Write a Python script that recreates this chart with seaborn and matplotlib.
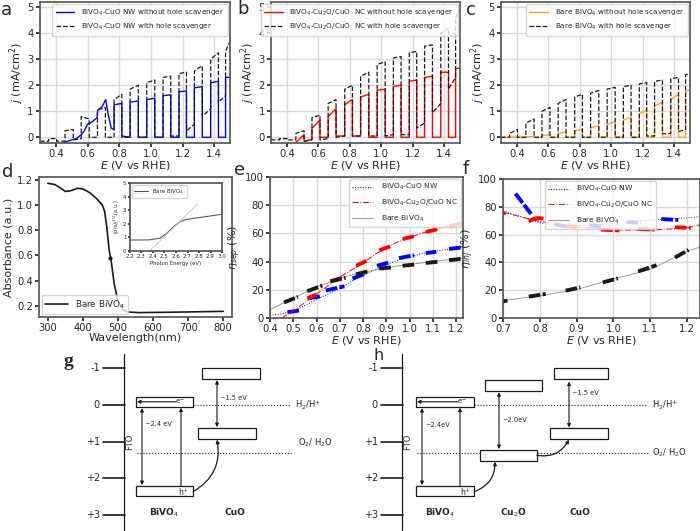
import numpy as np
import seaborn as sns
import matplotlib.pyplot as plt
from matplotlib.patches import Rectangle

nan = np.nan
W, H = 700, 531

# ---------------- a, b, c : chopped-light j-E curves ----------------
E_start = 0.3
light_on = [0.355, 0.458, 0.56, 0.663, 0.768, 0.869, 0.974, 1.077, 1.178, 1.275, 1.378, 1.472]
light_off = [0.405, 0.51, 0.611, 0.713, 0.817, 0.921, 1.025, 1.126, 1.225, 1.325, 1.427, 1.5]

# a - BiVO4-CuO NW
a_nw_pre_E = [0.45, 0.5, 0.53, 0.56, 0.58, 0.6, 0.63, 0.66, 0.665, 0.69, 0.715, 0.73, 0.75, 0.768]
a_nw_pre_j = [-0.2, -0.1, -0.05, 0.1, 0.25, 0.5, 0.6, 0.75, 1.05, 1.15, 1.45, 0.9, 0.35, 0.3]
a_nw_on0 = [nan, nan, nan, nan, 1.25, 1.35, 1.45, 1.6, 1.75, 1.9, 2.1, 2.3]
a_nw_on1 = [nan, nan, nan, nan, 1.3, 1.4, 1.5, 1.63, 1.78, 1.95, 2.15, 2.3]
a_nw_dark0 = [nan, nan, nan, nan, nan, 0.0, 0.0, 0.0, 0.0, 0.0, 0.0, 0.0]
a_nw_dark1 = [nan, nan, nan, nan, 0.05, 0.0, 0.0, 0.0, 0.0, 0.0, 0.0, nan]
a_sc_on0 = [-0.05, 0.25, 0.8, 1.05, 1.45, 1.85, 2.1, 2.3, 2.45, 2.55, 3.0, 3.3]
a_sc_on1 = [-0.05, 0.3, 0.7, 1.15, 1.65, 2.0, 2.2, 2.35, 2.5, 2.75, 3.25, 3.7]
a_sc_dark0 = [-0.15, -0.15, -0.05, 0.0, 0.0, 0.0, 0.0, 0.0, 0.05, 0.5, 1.1, 1.6]
a_sc_dark1 = [-0.15, -0.1, 0.0, 0.0, 0.0, 0.0, 0.0, 0.05, 0.25, 0.8, 1.35, nan]

# b - BiVO4-Cu2O/CuO NC
b_nc_on0 = [nan, -0.2, 0.35, 0.8, 1.25, 1.55, 1.8, 1.95, 2.15, 2.3, 2.5, 2.65]
b_nc_on1 = [nan, 0.1, 0.65, 1.1, 1.45, 1.65, 1.85, 2.0, 2.2, 2.35, 2.5, 2.65]
b_nc_dark0 = [nan, nan, -0.08, 0.0, 0.05, 0.05, 0.0, 0.0, 0.0, 0.0, 0.0, 0.0]
b_nc_dark1 = [nan, -0.15, 0.0, 0.05, 0.05, 0.0, 0.0, 0.0, 0.0, 0.0, 0.0, nan]
b_sc_on0 = [-0.05, 0.15, 0.75, 1.3, 1.85, 2.35, 2.8, 3.05, 3.25, 3.5, 4.0, 4.6]
b_sc_on1 = [-0.05, 0.25, 0.85, 1.45, 2.0, 2.5, 2.9, 3.1, 3.3, 3.55, 4.2, 4.9]
b_sc_dark0 = [-0.1, -0.1, -0.1, -0.05, 0.05, 0.05, 0.05, 0.1, 0.1, 0.55, 1.3, 2.3]
b_sc_dark1 = [-0.1, -0.15, -0.1, 0.0, 0.05, 0.05, 0.05, 0.1, 0.35, 0.95, 1.85, nan]

# c - bare BiVO4
c_bare_on0 = [0.0, 0.02, 0.07, 0.15, 0.25, 0.35, 0.5, 0.65, 0.9, 1.2, 1.45, 1.75]
c_bare_on1 = [0.02, 0.03, 0.1, 0.2, 0.3, 0.45, 0.6, 0.78, 1.05, 1.35, 1.65, 1.85]
c_bare_dark0 = [0.0, 0.0, 0.0, 0.0, 0.0, 0.0, 0.0, 0.0, 0.0, 0.0, 0.0, 0.0]
c_bare_dark1 = [0.0, 0.0, 0.0, 0.0, 0.0, 0.0, 0.0, 0.0, 0.0, 0.0, 0.0, nan]
c_sc_on0 = [0.15, 0.55, 1.0, 1.3, 1.55, 1.7, 1.85, 1.95, 2.05, 2.15, 2.25, 2.4]
c_sc_on1 = [0.3, 0.7, 1.15, 1.45, 1.65, 1.8, 1.92, 2.0, 2.1, 2.2, 2.3, 2.45]
c_sc_dark0 = [0.0, 0.0, 0.0, 0.0, 0.0, 0.0, 0.0, 0.0, 0.0, 0.05, 0.15, 0.3]
c_sc_dark1 = [0.0, 0.0, 0.0, 0.0, 0.0, 0.0, 0.0, 0.0, 0.05, 0.13, 0.22, nan]

# ---------------- d : UV-vis ----------------
wl = [300, 320, 340, 350, 365, 385, 400, 420, 440, 456, 462, 468, 475, 480, 489, 499, 513, 527, 560, 650, 800]
absb = [1.175, 1.165, 1.13, 1.11, 1.115, 1.135, 1.13, 1.1, 1.05, 1.0, 0.95, 0.83, 0.64, 0.57, 0.38, 0.245, 0.17, 0.15, 0.145, 0.148, 0.155]
wl_mark, abs_mark = [478], [0.58]
tauc_E = [2.2, 2.3, 2.37, 2.46, 2.52, 2.58, 2.64, 2.68, 2.75, 2.87, 3.0]
tauc_y = [0.81, 0.81, 0.82, 0.94, 1.3, 1.8, 2.17, 2.3, 2.4, 2.54, 2.7]
tang_E = [2.37, 2.79]
tang_y = [0.0, 3.47]

# ---------------- e : separation efficiency ----------------
e_nw_E = [0.40, 0.45, 0.50, 0.55, 0.60, 0.65, 0.70, 0.75, 0.80, 0.85, 0.90, 0.95, 1.00, 1.05, 1.10, 1.15, 1.20, 1.23]
e_nw_y = [2, 3, 4.7, 9, 13, 17, 21, 26, 30, 34, 38, 41, 43.5, 45.5, 47, 48.5, 49.5, 50.5]
e_nc_E = [0.45, 0.50, 0.55, 0.60, 0.65, 0.70, 0.75, 0.80, 0.85, 0.90, 0.95, 1.00, 1.05, 1.10, 1.15, 1.20, 1.23]
e_nc_y = [0, 5, 11, 17, 23, 29, 34, 39, 45, 50, 54, 57, 60, 62, 64.5, 66.5, 67.5]
e_bare_E = [0.40, 0.45, 0.50, 0.55, 0.60, 0.65, 0.70, 0.75, 0.80, 0.85, 0.90, 0.95, 1.00, 1.05, 1.10, 1.15, 1.20, 1.23]
e_bare_y = [6, 10, 14, 18, 22, 25, 28, 30.5, 32.5, 34, 35.5, 37, 38, 39, 40, 41, 42, 42.5]
# measured (bold) segments: E start, E end, value start, value end
e_nw_seg = [(0.475, 0.53, 4, 5.5), (0.565, 0.62, 14, 15.5), (0.64, 0.72, 19.5, 22.5), (0.755, 0.81, 28, 31.5),
            (0.86, 0.915, 37, 39.5), (0.955, 1.02, 42.5, 44.5), (1.07, 1.115, 46, 47), (1.17, 1.225, 49, 50)]
e_nc_seg = [(0.56, 0.60, 14, 16.5), (0.66, 0.72, 26, 29), (0.77, 0.815, 37, 40.5), (0.87, 0.92, 48, 51),
            (0.97, 1.02, 56, 58), (1.07, 1.12, 61, 63), (1.17, 1.225, 65, 67)]
e_bare_seg = [(0.46, 0.52, 11, 15), (0.56, 0.625, 19, 23), (0.66, 0.725, 26, 28.5), (0.77, 0.82, 31, 33),
              (0.87, 0.925, 35, 36), (0.97, 1.025, 37, 38), (1.07, 1.125, 39, 40), (1.17, 1.225, 41, 42)]

# ---------------- f : injection efficiency ----------------
f_E = [0.70, 0.80, 0.90, 1.00, 1.10, 1.20, 1.235]
f_nw_y = [77, 68.5, 66, 68, 70.5, 72, 73]
f_nc_y = [76, 69.5, 65.5, 63.2, 63.2, 64.8, 67]
f_bare_y = [12.5, 16, 20.5, 28, 35, 48, 51]
f_nw_seg = [(0.734, 0.757, 89.5, 81.5), (0.757, 0.779, 81.5, 74), (0.84, 0.875, 67.7, 65.5), (0.935, 0.975, 66.5, 65.8),
            (1.035, 1.074, 69, 68.6), (1.13, 1.176, 71.2, 70.5)]
f_nc_seg = [(0.70, 0.706, 75, 76), (0.77, 0.79, 69.6, 72), (0.79, 0.81, 72, 71.5), (0.87, 0.91, 66, 65.5),
            (0.966, 1.016, 63.6, 63), (1.067, 1.112, 64, 63.6), (1.167, 1.21, 65.3, 64.8)]
f_bare_seg = [(0.70, 0.712, 12, 12.5), (0.77, 0.816, 15.4, 17.3), (0.87, 0.91, 19.7, 22), (0.971, 1.012, 25.6, 28.5),
              (1.067, 1.117, 33.5, 38), (1.167, 1.204, 43.5, 49)]

# ---------------- g, h : band diagrams (potential vs RHE) ----------------
scale_ticks = [-1, 0, 1, 2, 3]
scale_labels = ["-1", "0", "+1", "+2", "+3"]
bivo4_cb = (-0.22, 0.05)
bivo4_vb = (2.2, 2.48)
cu2o_cb = (-0.67, -0.37)
cu2o_vb = (1.22, 1.51)
cuo_cb = (-1.0, -0.7)
cuo_vb = (0.63, 0.92)
h2_level = 0.0
o2_level = 1.31

sns.set_theme(style="whitegrid")
sns.set_style("whitegrid", {"axes.edgecolor": ".35", "grid.color": ".85", "xtick.bottom": True,
                            "ytick.left": True, "axes.linewidth": 0.8})
plt.rcParams['font.family'] = ['DejaVu Sans']

fig = plt.figure(figsize=(7, 5.31), dpi=100)


def px_axes(x0, y0, x1, y1):
    return fig.add_axes([x0 / W, 1 - y1 / H, (x1 - x0) / W, (y1 - y0) / H])


def chopped(on0, on1, dark0, dark1):
    xs, ys = [], []
    for i in range(len(light_on)):
        if np.isnan(on0[i]):
            continue
        if i == 0:
            xs.append(E_start)
            ys.append(dark0[0])
        if not np.isnan(dark0[i]):
            xs.append(light_on[i])
            ys.append(dark0[i])
        xs += [light_on[i], light_off[i]]
        ys += [on0[i], on1[i]]
        if not np.isnan(dark1[i]):
            xs.append(light_off[i])
            ys.append(dark1[i])
    return xs, ys


def style_jE(ax):
    ax.set_xlim(0.3, 1.5)
    ax.set_ylim(-0.22, 5.2)
    ax.set_xticks([0.4, 0.6, 0.8, 1.0, 1.2, 1.4])
    ax.set_yticks([0, 1, 2, 3, 4, 5])
    ax.tick_params(labelsize=7.2, length=3, pad=1.5)
    ax.set_xlabel("$E$ (V vs RHE)", fontsize=8, labelpad=0)
    ax.set_ylabel("$j$ (mA/cm$^2$)", fontsize=8, labelpad=1)
    ax.legend(loc="upper right", fontsize=5.2, handlelength=2.6, borderaxespad=0.3, labelspacing=0.55,
              handletextpad=0.9, borderpad=0.5)


panels = [
    ((40, 2, 230, 143), "a", "blue", "BiVO$_4$-CuO NW",
     (a_nw_on0, a_nw_on1, a_nw_dark0, a_nw_dark1), (a_sc_on0, a_sc_on1, a_sc_dark0, a_sc_dark1)),
    ((271, 2, 460, 143), "b", "red", "BiVO$_4$-Cu$_2$O/CuO  NC",
     (b_nc_on0, b_nc_on1, b_nc_dark0, b_nc_dark1), (b_sc_on0, b_sc_on1, b_sc_dark0, b_sc_dark1)),
    ((501, 2, 690, 143), "c", "#ffa033", "Bare BiVO$_4$",
     (c_bare_on0, c_bare_on1, c_bare_dark0, c_bare_dark1), (c_sc_on0, c_sc_on1, c_sc_dark0, c_sc_dark1)),
]
for box, letter, col, name, dry, scav in panels:
    ax = px_axes(*box)
    xs, ys = chopped(*dry)
    if letter == "a":
        xs = a_nw_pre_E + xs
        ys = a_nw_pre_j + ys
    sns.lineplot(x=xs, y=ys, sort=False, estimator=None, color=col, lw=1.0, ax=ax,
                 label=name + " without hole scavenger")
    xs, ys = chopped(*scav)
    sns.lineplot(x=xs, y=ys, sort=False, estimator=None, color="k", lw=0.9, linestyle="--", ax=ax,
                 label=name + " with hole scavenger")
    style_jE(ax)

# d
ax = px_axes(39, 177, 232, 317)
sns.lineplot(x=wl, y=absb, color="0.1", lw=1.2, ax=ax, label="Bare BiVO$_4$")
ax.plot(wl_mark, abs_mark, "o", color="0.1", ms=2)
ax.grid(False)
ax.set_xlim(275, 825)
ax.set_ylim(0.11, 1.225)
ax.set_xticks([300, 400, 500, 600, 700, 800])
ax.set_yticks([0.2, 0.4, 0.6, 0.8, 1.0, 1.2])
ax.tick_params(labelsize=7.2, length=3, pad=1.5)
ax.set_xlabel("Wavelength(nm)", fontsize=8, labelpad=0)
ax.set_ylabel("Absorbance (a.u.)", fontsize=8, labelpad=2)
ax.legend(loc="lower left", fontsize=6.3, handlelength=2.6, borderaxespad=0.3)

ins = px_axes(130, 183, 222, 251)
sns.lineplot(x=tauc_E, y=tauc_y, color="0.35", lw=0.8, ax=ins, label="Bare BiVO$_4$")
sns.lineplot(x=tang_E, y=tang_y, color="0.75", lw=0.6, ax=ins)
ins.grid(False)
ins.set_xlim(2.2, 3.0)
ins.set_ylim(0, 5)
ins.set_xticks([2.2, 2.3, 2.4, 2.5, 2.6, 2.7, 2.8, 2.9, 3.0])
ins.set_yticks([0, 1, 2, 3, 4, 5])
ins.tick_params(labelsize=4, length=1.5, pad=1)
ins.set_xlabel("Photon Energy (eV)", fontsize=3.8, labelpad=1)
ins.set_ylabel(r"$(\alpha h\nu)^{1/2}$ (a.u.)", fontsize=3.5, labelpad=1)
ins.legend(loc="upper left", fontsize=4, handlelength=2.5, borderaxespad=0.3)


def eff_panel(box, xlim, xticks, ylabel, series, legend_anchor):
    ax = px_axes(*box)
    for E, y, seg, col, ls, name in series:
        sns.lineplot(x=E, y=y, color=col, lw=0.7, linestyle=ls, ax=ax, label=name)
        for x0, x1, y0, y1 in seg:
            sns.lineplot(x=[x0, x1], y=[y0, y1], color=col if col != "0.6" else "k", lw=2.8,
                         linestyle=(0, (3, 0.6)), ax=ax, legend=False)
    ax.set_xlim(*xlim)
    ax.set_ylim(0, 100)
    ax.set_xticks(xticks)
    ax.set_yticks([0, 20, 40, 60, 80, 100])
    ax.tick_params(labelsize=7.2, length=3, pad=1.5)
    ax.set_xlabel("$E$ (V vs RHE)", fontsize=8, labelpad=0)
    ax.set_ylabel(ylabel, fontsize=8, labelpad=1)
    ax.legend(loc="upper right", bbox_to_anchor=legend_anchor, fontsize=5.4, handlelength=2.8,
              borderaxespad=0.3, labelspacing=0.75, handletextpad=1.0)
    return ax


eff_panel((270, 177, 463, 318), (0.4, 1.23), [0.4, 0.5, 0.6, 0.7, 0.8, 0.9, 1.0, 1.1, 1.2], r"$\eta_{sep}$ (%)",
          [(e_nw_E, e_nw_y, e_nw_seg, "blue", ":", "BiVO$_4$-CuO NW"),
           (e_nc_E, e_nc_y, e_nc_seg, "red", "-.", "BiVO$_4$-Cu$_2$O/CuO NC"),
           (e_bare_E, e_bare_y, e_bare_seg, "0.6", "-", "Bare BiVO$_4$")], (1.0, 1.0))
eff_panel((503, 179, 700, 318), (0.7, 1.235), [0.7, 0.8, 0.9, 1.0, 1.1, 1.2], r"$\eta_{inj}$ (%)",
          [(f_E, f_nw_y, f_nw_seg, "blue", ":", "BiVO$_4$-CuO NW"),
           (f_E, f_nc_y, f_nc_seg, "red", "-.", "BiVO$_4$-Cu$_2$O/CuO NC"),
           (f_E, f_bare_y, f_bare_seg, "0.6", "-", "Bare BiVO$_4$")], (0.79, 1.0))

# panel letters
for letter, x, y in [("a", 6, 10), ("b", 243, 9), ("c", 471, 10), ("d", 8, 172), ("e", 240, 170), ("f", 466, 169)]:
    fig.text(x / W, 1 - y / H, letter, fontsize=13, va="center", ha="center")


def band_diagram(x0, x1, axis_x, fto, bands, gaps, arrows_e, curves, labels, h2_span, o2_span, o2_text):
    ax = px_axes(x0, 350, x1, 531)
    ax.set_xlim(x0, x1)
    ax.set_ylim(3.43, -1.5)
    ax.axis("off")
    ax.plot([axis_x, axis_x], [-1.4, 3.4], color="k", lw=0.9)
    for v, lab in zip(scale_ticks, scale_labels):
        ax.plot([axis_x - 21, axis_x + 1], [v, v], color="k", lw=1.2)
        ax.text(axis_x - 24, v, lab, fontsize=7, ha="right", va="center")
    ax.add_patch(Rectangle((fto, -1), 10, 4, fill=False, lw=0.9))
    ax.text(fto + 5, 1.0, "FTO", rotation=90, fontsize=6, ha="center", va="center")
    for bx, bw, (top, bot) in bands:
        ax.add_patch(Rectangle((bx, top), bw, bot - top, facecolor="white", edgecolor="k", lw=0.9, zorder=3))
    ax.plot(h2_span, [h2_level, h2_level], color="k", lw=0.8, linestyle=":")
    ax.plot(o2_span, [o2_level, o2_level], color="k", lw=0.8, linestyle=":")
    ax.text(h2_span[1] + 5, h2_level, "H$_2$/H$^{+}$", fontsize=6, va="center")
    ax.text(o2_text[0], o2_text[1], "O$_2$/ H$_2$O", fontsize=6, va="center")
    for gx, v0, v1, txt, tv in gaps:
        ax.annotate("", xy=(gx, v0), xytext=(gx, v1),
                    arrowprops=dict(arrowstyle="<|-|>", lw=0.8, color="k", mutation_scale=5, shrinkA=0, shrinkB=0))
        ax.text(gx + 3, tv, txt, fontsize=4.8, va="center")
    ex, ux, bx0 = arrows_e
    ax.annotate("", xy=(bx0 + 1, -0.09), xytext=(ex - 4, -0.09),
                arrowprops=dict(arrowstyle="-|>", lw=0.8, color="k", mutation_scale=5, shrinkA=0, shrinkB=0),
                zorder=5)
    ax.text(ex, -0.1, "e$^{-}$", fontsize=5, ha="center", va="center", zorder=5)
    ax.text(ex + 3, 2.36, "h$^{+}$", fontsize=5.5, ha="center", va="center", zorder=5)
    ax.annotate("", xy=(ux, 0.07), xytext=(ux, 2.2),
                arrowprops=dict(arrowstyle="-|>", lw=0.8, color="k", mutation_scale=5, shrinkA=0, shrinkB=0),
                zorder=5)
    for (sx, sv), (tx, tv) in curves:
        ax.annotate("", xy=(tx, tv), xytext=(sx, sv),
                    arrowprops=dict(arrowstyle="-|>", lw=0.9, color="k", mutation_scale=5, shrinkA=0, shrinkB=0,
                                    connectionstyle="arc3,rad=0.35"), zorder=5)
    for lx, txt in labels:
        ax.text(lx, 2.93, txt, fontsize=6.5, fontweight="bold", ha="center", va="center")
    return ax


band_diagram(60, 345, 124, 125,
             [(136, 57, bivo4_cb), (136, 57, bivo4_vb), (202, 58, cuo_cb), (198, 58, cuo_vb)],
             [(142, 0.08, 2.18, "~2.4 eV", 0.52), (217, -0.68, 0.6, "~1.5 eV", -0.2)],
             (180, 181, 136),
             [((193, 2.36), (217, 0.94))],
             [(164, "BiVO$_4$"), (235, "CuO")],
             (194, 290), (137, 292), (298, 1.03))
band_diagram(350, 700, 402, 403,
             [(416, 58, bivo4_cb), (416, 58, bivo4_vb), (485, 57, cu2o_cb), (480, 57, cu2o_vb),
              (554, 54, cuo_cb), (550, 58, cuo_vb)],
             [(422, 0.08, 2.18, "~2.4eV", 0.55), (499, -0.35, 1.2, "~2.0eV", 0.4), (569, -0.64, 0.61, "~1.5 eV", -0.33)],
             (462, 460, 416),
             [((474, 2.36), (495, 1.54)), ((537, 1.37), (569, 0.94))],
             [(440, "BiVO$_4$"), (513, "Cu$_2$O"), (580, "CuO")],
             (474, 647), (417, 648), (652, 1.31))

fig.text(63 / W, 1 - 362 / H, "g", fontsize=14, family=["Liberation Serif"], fontweight="bold", va="center")
fig.text(379 / W, 1 - 356 / H, "h", fontsize=11.5, va="center", ha="center")

fig.savefig("out.png", dpi=100)
